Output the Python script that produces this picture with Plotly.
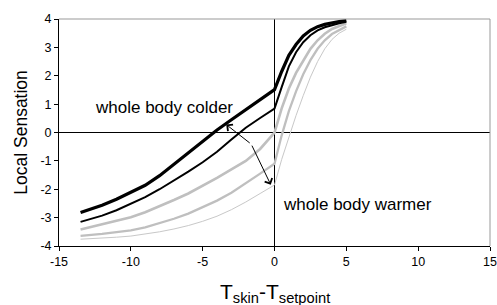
import plotly.graph_objects as go

# x grid (T_skin - T_setpoint)
x_vals = [-13.5, -13, -12, -11, -10, -9, -8, -7, -6, -5, -4, -3, -2, -1, 0,
          0.5, 1, 1.5, 2, 2.5, 3, 3.5, 4, 4.5, 5]

# Local sensation curves (from coldest whole body to warmest)
colder_thick = [-2.82, -2.74, -2.56, -2.35, -2.11, -1.86, -1.52, -1.12, -0.72, -0.33, 0.09, 0.45, 0.81, 1.16, 1.51,
                2.15, 2.72, 3.10, 3.40, 3.60, 3.73, 3.81, 3.87, 3.91, 3.94]
colder = [-3.15, -3.08, -2.93, -2.74, -2.52, -2.28, -2.00, -1.70, -1.38, -1.05, -0.68, -0.25, 0.17, 0.51, 0.84,
          1.60, 2.33, 2.83, 3.18, 3.43, 3.60, 3.71, 3.79, 3.85, 3.90]
neutral = [-3.42, -3.36, -3.25, -3.13, -2.99, -2.81, -2.60, -2.38, -2.15, -1.88, -1.60, -1.30, -1.00, -0.58, 0.00,
           0.85, 1.55, 2.10, 2.55, 2.95, 3.25, 3.48, 3.65, 3.76, 3.85]
warmer = [-3.64, -3.62, -3.57, -3.51, -3.45, -3.34, -3.20, -3.04, -2.86, -2.64, -2.40, -2.12, -1.80, -1.45, -1.10,
          -0.10, 0.75, 1.45, 2.05, 2.55, 2.95, 3.25, 3.47, 3.62, 3.74]
warmer_thin = [-3.76, -3.75, -3.72, -3.69, -3.65, -3.58, -3.50, -3.40, -3.28, -3.13, -2.95, -2.72, -2.45, -2.15, -1.85,
               -0.95, -0.15, 0.60, 1.30, 1.95, 2.50, 2.95, 3.28, 3.50, 3.64]

x_ticks = [-15, -10, -5, 0, 5, 10, 15]
y_ticks = [-4, -3, -2, -1, 0, 1, 2, 3, 4]

# arrow geometry (data coords): common origin and the two tips
arrow_origin = (-1.62, -0.41)
arrow_tip_colder = (-3.36, 0.28)
arrow_tip_warmer = (-0.26, -1.84)

FONT = "Liberation Sans, Arial, sans-serif"

fig = go.Figure()
series = [
    (warmer_thin, "#c8c8c8", 1.0),
    (warmer, "#bfbfbf", 2.3),
    (neutral, "#bfbfbf", 2.6),
    (colder, "#000000", 2.0),
    (colder_thick, "#000000", 3.2),
]
for ys, col, w in series:
    fig.add_trace(go.Scatter(x=x_vals, y=ys, mode="lines",
                             line=dict(color=col, width=w), showlegend=False,
                             hoverinfo="skip"))

for tip in (arrow_tip_colder, arrow_tip_warmer):
    fig.add_annotation(x=tip[0], y=tip[1], ax=arrow_origin[0], ay=arrow_origin[1],
                       xref="x", yref="y", axref="x", ayref="y", text="",
                       showarrow=True, arrowhead=4, arrowsize=1.6, arrowwidth=1,
                       arrowcolor="#000000")

fig.add_annotation(x=-7.68, y=0.88, xref="x", yref="y", text="whole body colder",
                   showarrow=False, font=dict(family=FONT, size=17, color="#000"),
                   xanchor="center", yanchor="middle")
fig.add_annotation(x=5.79, y=-2.52, xref="x", yref="y", text="whole body warmer",
                   showarrow=False, font=dict(family=FONT, size=17, color="#000"),
                   xanchor="center", yanchor="middle")

# axis titles as annotations for precise placement
fig.add_annotation(x=-0.09, y=0.5, xref="paper", yref="paper", text="Local Sensation",
                   textangle=-90, showarrow=False,
                   font=dict(family=FONT, size=17.5, color="#000"),
                   xanchor="center", yanchor="middle")
fig.add_annotation(x=0.5, y=-0.205, xref="paper", yref="paper",
                   text="T<sub>skin</sub>-T<sub>setpoint</sub>", showarrow=False,
                   font=dict(family=FONT, size=21, color="#000"),
                   xanchor="center", yanchor="middle")

# top and right plot-area border (gray)
fig.add_shape(type="line", xref="paper", yref="paper", x0=0, x1=1, y0=1, y1=1,
              line=dict(color="#999999", width=1))
fig.add_shape(type="line", xref="paper", yref="paper", x0=1, x1=1, y0=0, y1=1,
              line=dict(color="#999999", width=1))

fig.update_layout(
    width=497, height=305,
    margin=dict(l=59, r=7, t=19, b=59, autoexpand=False),
    paper_bgcolor="white", plot_bgcolor="white",
    font=dict(family=FONT, size=12.5, color="#000"),
    xaxis=dict(range=[-15, 15], tickvals=x_ticks, ticktext=[str(v) for v in x_ticks],
               showgrid=False, zeroline=True, zerolinecolor="#000", zerolinewidth=1,
               showline=True, linecolor="#000", linewidth=1, automargin=False,
               ticklabeloverflow="allow",
               ticks="outside", ticklen=4, tickcolor="#000"),
    yaxis=dict(range=[-4, 4], tickvals=y_ticks, ticktext=[str(v) for v in y_ticks],
               showgrid=False, zeroline=True, zerolinecolor="#000", zerolinewidth=1,
               showline=True, linecolor="#000", linewidth=1, automargin=False,
               ticks="outside", ticklen=4, tickcolor="#000"),
)

# remove the default page margin so the 497x305 figure fills the window exactly
fig.write_html("out.html", config={"displayModeBar": False},
               post_script="document.body.style.margin='0';document.body.style.overflow='hidden';")
